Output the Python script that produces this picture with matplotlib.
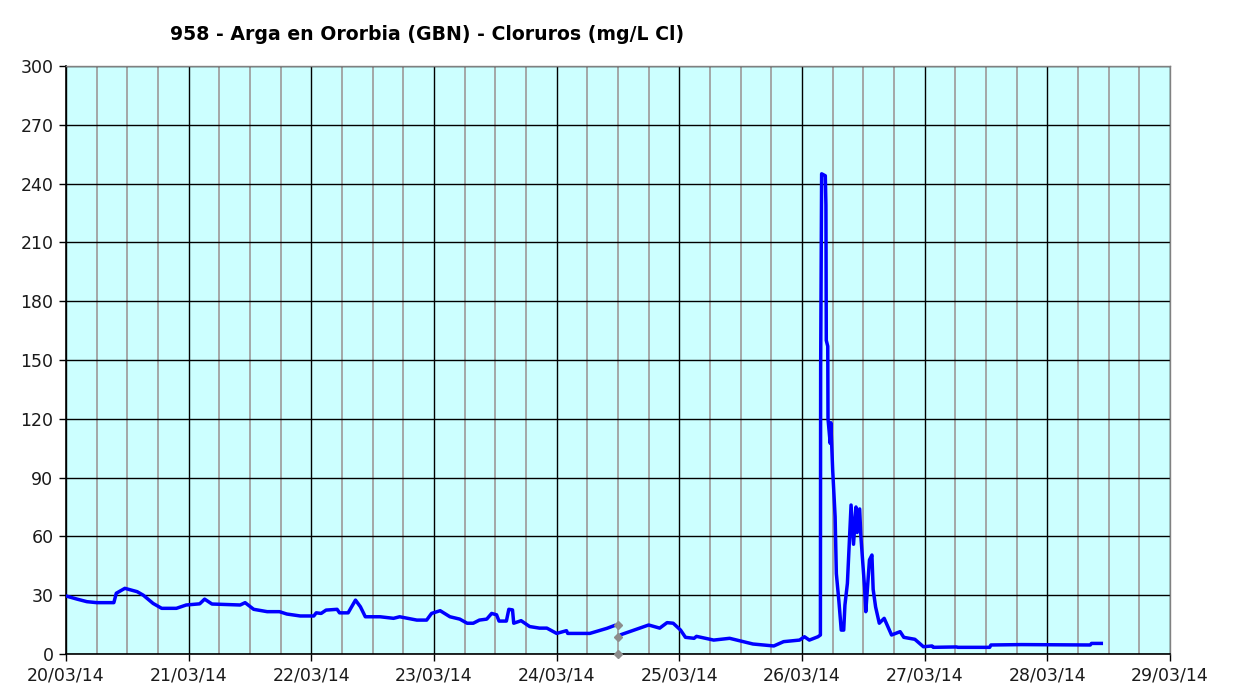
import matplotlib
matplotlib.use("Agg")
import matplotlib.pyplot as plt
import matplotlib.dates as mdates
import numpy as np
from datetime import datetime

# time in days since 20/03/14 00:00, chloride in mg/L (nan = gap)
t_days = [0.00, 0.09, 0.17, 0.25, 0.39, 0.41, 0.48, 0.58, 0.63, 0.71, 0.78, 0.90,
          0.98, 1.09, 1.13, 1.19, 1.42, 1.46, 1.53, 1.64, 1.74, 1.80, 1.91, 2.02,
          2.04, 2.08, 2.12, 2.21, 2.23, 2.30, 2.36, 2.40, 2.44, 2.56, 2.67, 2.72,
          2.86, 2.94, 2.98, 3.05, 3.13, 3.21, 3.27, 3.32, 3.37, 3.43, 3.47, 3.51,
          3.53, 3.59, 3.61, 3.64, 3.65, 3.71, 3.78, 3.86, 3.92, 4.00, 4.08, 4.09,
          4.27, 4.41, 4.47, 4.50, 4.53, 4.65, 4.75, 4.84, 4.90, 4.95, 5.01, 5.05,
          5.12, 5.14, 5.28, 5.41, 5.52, 5.60, 5.77, 5.85, 5.98, 6.02, 6.06, 6.13,
          6.150, 6.152, 6.160, 6.190, 6.195, 6.198, 6.210, 6.212, 6.230, 6.235,
          6.250, 6.270, 6.280, 6.300, 6.320, 6.340, 6.350, 6.370, 6.385, 6.400,
          6.420, 6.440, 6.450, 6.470, 6.480, 6.510, 6.520, 6.550, 6.570, 6.580,
          6.600, 6.630, 6.670, 6.730, 6.800, 6.830, 6.920, 6.990, 7.060, 7.070,
          7.260, 7.270, 7.530, 7.540, 7.790, 8.350, 8.360, 8.440]
cloruros = [29.6, 28.0, 26.7, 26.2, 26.2, 31.0, 33.5, 31.8, 30.0, 25.8, 23.3, 23.3,
            25.0, 25.6, 28.0, 25.5, 25.0, 26.2, 22.8, 21.6, 21.6, 20.4, 19.4, 19.4,
            21.0, 20.7, 22.4, 22.8, 21.0, 21.0, 27.5, 24.1, 19.0, 19.0, 18.2, 19.0,
            17.3, 17.3, 20.7, 22.1, 19.0, 17.8, 15.7, 15.7, 17.3, 17.8, 20.7, 20.0,
            16.8, 16.8, 22.8, 22.5, 15.7, 17.0, 14.0, 13.2, 13.2, 10.5, 11.9, 10.5,
            10.5, 13.1, 14.5, np.nan, 10.0, 12.6, 14.8, 13.2, 16.0, 15.7, 12.2, 8.5,
            8.0, 9.0, 7.1, 8.0, 6.3, 5.1, 4.1, 6.3, 7.1, 8.8, 7.1, 8.8,
            9.7, 145.0, 245.0, 244.0, 229.0, 160.0, 157.0, 120.0, 107.5, 118.0,
            94.0, 70.0, 41.0, 27.5, 12.2, 12.2, 25.0, 36.0, 56.4, 76.0,
            56.0, 75.0, 62.0, 74.0, 60.0, 34.0, 21.6, 48.0, 50.5, 33.0,
            24.0, 15.7, 18.2, 9.7, 11.4, 8.5, 7.5, 3.7, 4.1, 3.4,
            3.6, 3.4, 3.4, 4.6, 4.8, 4.6, 5.4, 5.4]

# grey flagged values around the gap
flag_days = [4.5, 4.5, 4.5]
flag_vals = [14.8, 8.7, 0.0]

title = "958 - Arga en Ororbia (GBN) - Cloruros (mg/L Cl)"

base = mdates.date2num(datetime(2014, 3, 20))
x = base + np.array(t_days)
xf = base + np.array(flag_days)

fig = plt.figure(figsize=(12.51, 6.88), dpi=100)
ax = fig.add_axes([66 / 1251, 1 - 654 / 688, (1170 - 66) / 1251, (654 - 66) / 688])
ax.set_facecolor("#ccffff")

ax.plot(x, cloruros, color="#0000ff", lw=2.5, zorder=3)
ax.plot(xf, flag_vals, ls="none", marker="D", ms=4.5, color="#8c8c8c", zorder=4, clip_on=False)

ax.set_xlim(base, base + 9)
ax.set_ylim(0, 300)
ax.set_yticks(np.arange(0, 301, 30))
ax.xaxis.set_major_locator(mdates.DayLocator())
ax.xaxis.set_minor_locator(mdates.HourLocator(byhour=[6, 12, 18]))
ax.xaxis.set_major_formatter(mdates.DateFormatter("%d/%m/%y"))

ax.grid(which="major", color="black", lw=1.0, zorder=1)
ax.grid(which="minor", axis="x", color="#a0a0a0", lw=1.3, zorder=1)
ax.set_axisbelow(True)

ax.tick_params(which="major", direction="out", length=5, width=1, labelsize=12.5,
               labelcolor="#1a1a1a", pad=4)
ax.tick_params(which="minor", length=0)
for s in ["left", "bottom"]:
    ax.spines[s].set_color("black")
    ax.spines[s].set_linewidth(1.2)
for s in ["top", "right"]:
    ax.spines[s].set_color("#808080")
    ax.spines[s].set_linewidth(1.0)

fig.text(170 / 1251, 1 - 35 / 688, title, fontsize=13.6, fontweight="bold", va="center", ha="left")

fig.savefig("out.png", dpi=100, facecolor="white")
